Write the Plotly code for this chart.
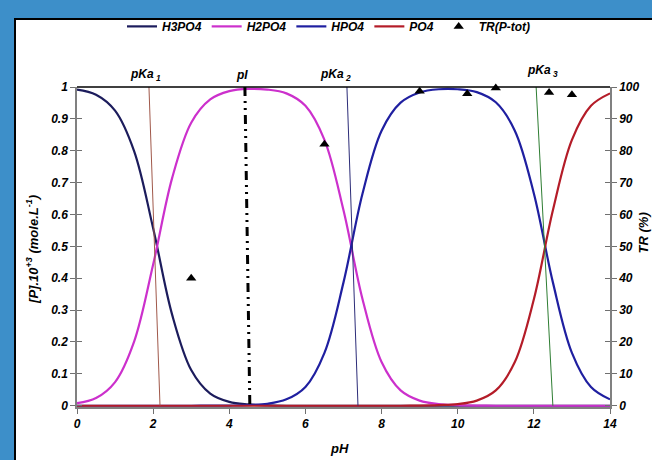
import plotly.graph_objects as go

# ---- data ----
ph = [0, 0.5, 1, 1.5, 2, 2.5, 3, 3.5, 4, 4.5, 5, 5.5, 6, 6.5, 7, 7.5, 8, 8.5, 9,
      9.5, 10, 10.5, 11, 11.5, 12, 12.5, 13, 13.5, 14]
h3po4 = [0.992, 0.976, 0.926, 0.799, 0.557, 0.285, 0.112, 0.038, 0.012, 0.004, 0.001,
         0, 0, 0, 0, 0, 0, 0, 0, 0, 0, 0, 0, 0, 0, 0, 0, 0, 0]
h2po4 = [0.008, 0.024, 0.074, 0.201, 0.443, 0.715, 0.888, 0.961, 0.987, 0.994, 0.992,
         0.980, 0.941, 0.834, 0.613, 0.334, 0.137, 0.048, 0.016, 0.005, 0.002, 0.0005,
         0, 0, 0, 0, 0, 0, 0]
hpo4 = [0, 0, 0, 0, 0, 0, 0, 0.0002, 0.0006, 0.002, 0.006, 0.020, 0.059, 0.166, 0.387,
        0.666, 0.863, 0.951, 0.983, 0.993, 0.993, 0.984, 0.952, 0.863, 0.666, 0.387,
        0.166, 0.059, 0.020]
po4 = [0, 0, 0, 0, 0, 0, 0, 0, 0, 0, 0, 0, 0, 0, 0, 0, 0, 0, 0.0005, 0.002, 0.005,
       0.016, 0.048, 0.137, 0.334, 0.613, 0.834, 0.941, 0.980]

tr_ph = [3, 6.5, 9, 10.25, 11, 12.4, 13]
tr_val = [40, 82, 98.7, 97.9, 99.7, 98.3, 97.6]

# marker lines (pH at top, pH at bottom)
pka1_line = [1.89, 2.18]
pka2_line = [7.09, 7.38]
pka3_line = [12.06, 12.5]
pi_line = [4.41, 4.54]
label_pos = {"pKa<sub> 1</sub>": 1.79, "pI": 4.33, "pKa<sub> 2</sub>": 6.78, "pKa<sub> 3</sub>": 12.22}

FONT = "Liberation Sans, Arial, sans-serif"
bfont = lambda s, c="black": dict(family=FONT, size=s, color=c, weight="bold", style="italic")

fig = go.Figure()

series = [("H3PO4", h3po4, "#1c1c5c"), ("H2PO4", h2po4, "#cc30cc"),
          ("HPO4", hpo4, "#1f1fa0"), ("PO4", po4, "#b41c28")]
for name, vals, col in series:
    fig.add_trace(go.Scatter(x=ph, y=vals, name=name, mode="lines",
                             line=dict(color=col, width=2.2, shape="spline", smoothing=1.0)))

for xs, col in [(pka1_line, "#a0584a"), (pka2_line, "#2c2c78"), (pka3_line, "#2e7d32")]:
    fig.add_trace(go.Scatter(x=xs, y=[1, 0], mode="lines", showlegend=False,
                             line=dict(color=col, width=1), hoverinfo="skip"))
fig.add_trace(go.Scatter(x=pi_line, y=[1, 0], mode="lines", showlegend=False,
                         line=dict(color="black", width=3, dash="9px,5px,2px,5px,2px,5px"),
                         hoverinfo="skip"))

fig.add_trace(go.Scatter(x=tr_ph, y=tr_val, name="TR(P-tot)", mode="markers", yaxis="y2",
                         cliponaxis=False,
                         marker=dict(symbol="triangle-up", size=9, color="black")))

# empty traces so that the inner-tick overlay axes are drawn
fig.add_trace(go.Scatter(x=[None], y=[None], yaxis="y3", showlegend=False, hoverinfo="skip"))
fig.add_trace(go.Scatter(x=[None], y=[None], yaxis="y4", showlegend=False, hoverinfo="skip"))

L, R, T, B = 77, 42, 77, 53
W, H = 652, 460
pw, ph_ = W - L - R, H - T - B
px = lambda x: (x - L) / pw
py = lambda y: (H - B - y) / ph_

axis_common = dict(showgrid=False, zeroline=False, tickfont=bfont(12), ticklen=5,
                   tickcolor="#707070", linecolor="#808080", linewidth=1.5)

fig.update_layout(
    width=W, height=H,
    margin=dict(l=L, r=R, t=T, b=B),
    paper_bgcolor="#3d8fc9", plot_bgcolor="white",
    showlegend=True,
    legend=dict(orientation="h", x=px(122), xanchor="left", y=py(14.5), yanchor="middle",
                font=bfont(12), bgcolor="rgba(0,0,0,0)", itemwidth=30,
                tracegroupgap=0),
    xaxis=dict(range=[0, 14], dtick=2, ticks="outside", showline=True, **axis_common),
    yaxis=dict(range=[-0.004, 1.0], dtick=0.1, ticks="outside", showline=True, **axis_common),
    yaxis2=dict(range=[-0.4, 100], dtick=10, ticks="outside", showline=True, side="right",
                overlaying="y", **axis_common),
    yaxis3=dict(range=[-0.004, 1.0], dtick=0.1, ticks="inside", ticklen=5, tickcolor="#707070",
                showticklabels=False, showline=False, showgrid=False, zeroline=False,
                overlaying="y", side="left", anchor="x"),
    yaxis4=dict(range=[-0.4, 100], dtick=10, ticks="inside", ticklen=5, tickcolor="#707070",
                showticklabels=False, showline=False, showgrid=False, zeroline=False,
                overlaying="y", side="right", anchor="x"),
)

shapes = [
    dict(type="rect", xref="paper", yref="paper", x0=px(15), x1=px(700), y0=py(520), y1=py(7),
         fillcolor="white", line=dict(color="black", width=2), layer="below"),
    dict(type="line", xref="paper", yref="paper", x0=0, x1=1, y0=1, y1=1,
         line=dict(color="black", width=1.5)),
]
fig.update_layout(shapes=shapes)

ann = []
for txt, xv in label_pos.items():
    yy = 61 if "3" in txt else 65
    ann.append(dict(text=txt, x=xv, xref="x", y=py(yy), yref="paper", showarrow=False,
                    font=bfont(12), xanchor="center", yanchor="middle"))
ann.append(dict(text="pH", x=px(339), xref="paper", y=py(450), yref="paper", showarrow=False,
                font=bfont(13), xanchor="center", yanchor="middle"))
ann.append(dict(text="[P].10<sup>+3</sup> (mole.L<sup>-1</sup>)", x=px(32), xref="paper",
                y=py(245), yref="paper", showarrow=False, textangle=-90,
                font=bfont(13), xanchor="center", yanchor="middle"))
ann.append(dict(text="TR (%)", x=px(643), xref="paper", y=py(228), yref="paper",
                showarrow=False, textangle=-90, font=bfont(13),
                xanchor="center", yanchor="middle"))
fig.update_layout(annotations=ann)

fig.write_html("out.html")
